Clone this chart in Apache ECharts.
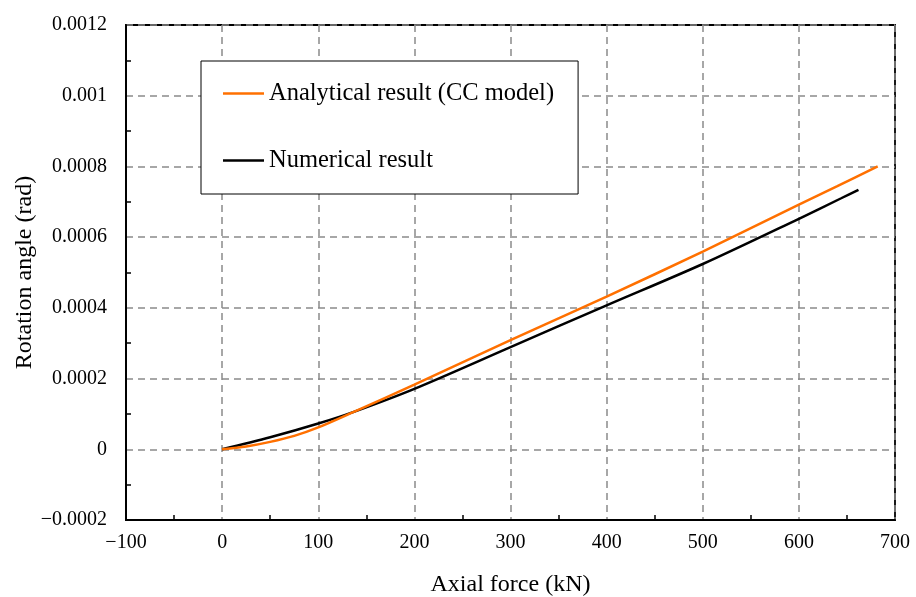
<!DOCTYPE html>
<html>
<head>
<meta charset="utf-8">
<script src="https://cdn.jsdelivr.net/npm/echarts@6/dist/echarts.min.js"></script>
<style>
  html, body { margin: 0; padding: 0; background: #fff; }
  #chart { width: 916px; height: 597px; }
</style>
</head>
<body>
<div id="chart"></div>
<script>
// Axial force (kN) vs. rotation angle (rad)
const forceAnalytical = [0, 25, 50, 75, 100, 137, 200, 300, 400, 500, 600, 640, 682];
const rotAnalytical = [0, 0.000008, 0.000021, 0.000038, 0.000062, 0.000106, 0.000183, 0.000309, 0.000432, 0.000559, 0.000692, 0.000744, 0.0008];

const forceNumerical = [0, 50, 100, 137, 200, 300, 400, 500, 600, 644, 662];
const rotNumerical = [0, 0.000034, 0.000073, 0.000106, 0.000171, 0.000289, 0.000407, 0.000524, 0.000652, 0.00071, 0.000734];

const seriesNames = ['Analytical result (CC model)', 'Numerical result'];
const xTitle = 'Axial force (kN)';
const yTitle = 'Rotation angle (rad)';

const FONT = '"Liberation Serif", "Times New Roman", serif';
const pair = (xs, ys) => xs.map((x, i) => [x, ys[i]]);
const minusFmt = v => {
  const n = parseFloat(Number(v).toFixed(6));
  return n < 0 ? '\u2212' + String(-n) : String(n);
};

const gridLine = { show: true, lineStyle: { color: '#8a8a8a', width: 1.5, type: [7, 5] } };

const chart = echarts.init(document.getElementById('chart'), null, { renderer: 'canvas' });
chart.setOption({
  animation: false,
  backgroundColor: '#fff',
  grid: {
    left: 126, right: 21, top: 25, bottom: 77,
    outerBoundsMode: 'none', containLabel: false,
    show: true, borderColor: '#000', borderWidth: 1.8, backgroundColor: 'transparent'
  },
  legend: {
    orient: 'vertical',
    left: 201, top: 61,
    padding: [20, 24, 21, 22],
    itemGap: 42,
    itemWidth: 41, itemHeight: 2.5,
    icon: 'rect',
    borderColor: '#000', borderWidth: 1,
    backgroundColor: '#fff',
    textStyle: { fontFamily: FONT, fontSize: 24.5, color: '#000', lineHeight: 24 },
    data: seriesNames
  },
  xAxis: {
    type: 'value', min: -100, max: 700, interval: 100,
    name: xTitle, nameLocation: 'middle', nameGap: 53, nameMoveOverlap: false,
    nameTextStyle: { fontFamily: FONT, fontSize: 24, color: '#000' },
    axisLine: { show: true, onZero: false, lineStyle: { color: '#000', width: 2 } },
    axisTick: { show: false, inside: true },
    minorTick: { show: true, splitNumber: 2, length: 5, lineStyle: { color: '#000', width: 1.5 } },
    axisLabel: { fontFamily: FONT, fontSize: 20, color: '#000', margin: 13, formatter: minusFmt },
    splitLine: gridLine
  },
  yAxis: {
    type: 'value', min: -0.0002, max: 0.0012, interval: 0.0002,
    name: yTitle, nameLocation: 'middle', nameGap: 89, nameMoveOverlap: false,
    nameTextStyle: { fontFamily: FONT, fontSize: 24, color: '#000' },
    axisLine: { show: true, onZero: false, lineStyle: { color: '#000', width: 2 } },
    axisTick: { show: false, inside: true },
    minorTick: { show: true, splitNumber: 2, length: 5, lineStyle: { color: '#000', width: 1.5 } },
    axisLabel: { fontFamily: FONT, fontSize: 20, color: '#000', margin: 19, formatter: minusFmt },
    splitLine: gridLine
  },
  series: [
    {
      name: seriesNames[0], type: 'line', smooth: 0.3, showSymbol: false,
      color: '#FF7000',
      lineStyle: { color: '#FF7000', width: 2.5 },
      data: pair(forceAnalytical, rotAnalytical), z: 3
    },
    {
      name: seriesNames[1], type: 'line', smooth: 0.3, showSymbol: false,
      color: '#000',
      lineStyle: { color: '#000', width: 2.5 },
      data: pair(forceNumerical, rotNumerical), z: 2
    }
  ]
});
</script>
</body>
</html>
